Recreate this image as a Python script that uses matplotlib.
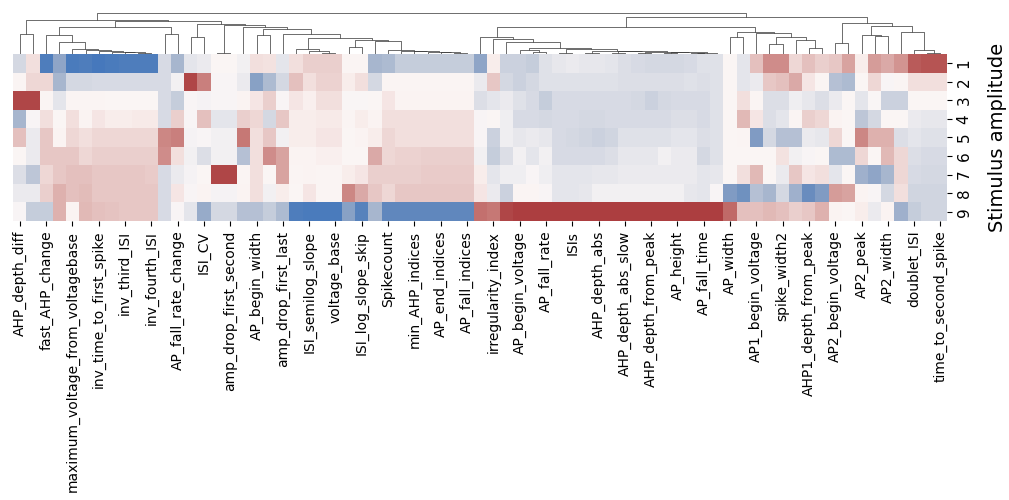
import matplotlib
matplotlib.use("Agg")
import matplotlib.pyplot as plt
import numpy as np
import seaborn as sns
from matplotlib.collections import LineCollection

# Column (feature) labels shown on every other column, in dendrogram order
feature_labels = [
    "AHP_depth_diff", "fast_AHP_change", "maximum_voltage_from_voltagebase",
    "inv_time_to_first_spike", "inv_third_ISI", "inv_fourth_ISI",
    "AP_fall_rate_change", "ISI_CV", "amp_drop_first_second", "AP_begin_width",
    "amp_drop_first_last", "ISI_semilog_slope", "voltage_base",
    "ISI_log_slope_skip", "Spikecount", "min_AHP_indices", "AP_end_indices",
    "AP_fall_indices", "irregularity_index", "AP_begin_voltage", "AP_fall_rate",
    "ISIs", "AHP_depth_abs", "AHP_depth_abs_slow", "AHP_depth_from_peak",
    "AP_height", "AP_fall_time", "AP_width", "AP1_begin_voltage",
    "spike_width2", "AHP1_depth_from_peak", "AP2_begin_voltage", "AP2_peak",
    "AP2_width", "doublet_ISI", "time_to_second_spike",
]
stim_labels = ["1", "2", "3", "4", "5", "6", "7", "8", "9"]

# Standardised feature values per stimulus amplitude (71 features each)
amp_1 = [-0.6, 0.4, -2.3, -1.5, -2.35, -2.3, -2.4, -2.35, -2.3, -2.3, -2.3, -0.55, -1.2, -0.4, -0.3, 0.0, 0.0, -0.2,
         0.4, 0.35, -0.4, 0.4, 0.6, 0.6, 0.6, 0.05, 0.05, -1.2, -1.1, -0.8, -0.8, -0.8, -0.8, -0.8, -0.8, -1.5,
         0.2, -0.7, -0.7, -0.8, -0.45, -0.35, -0.3, -0.35, -0.35, -0.4, -0.5, -0.55, -0.6, -0.6, -0.6, -0.55, -0.45,
         -0.45, 0.0, -0.4, 0.8, 1.5, 1.5, 0.5, 0.8, 0.6, 0.7, 1.2, 0.2, 1.3, 1.1, 1.4, 2.2, 2.3, 2.3]
amp_2 = [0.05, 0.5, 0.5, -1.2, -0.6, -0.6, -0.55, -0.55, -0.55, -0.55, -0.55, -0.55, -0.2, 2.5, 1.7, -0.1, -0.1, -0.3,
         -1.6, -1.1, -0.6, 0.8, 0.4, 0.55, 0.55, 0.2, 0.4, -0.6, 0.05, 0.05, 0.05, 0.05, 0.05, 0.05, 0.05, -0.3,
         0.7, -0.6, -0.7, -0.6, -0.45, -0.45, -0.45, -0.45, -0.45, -0.45, -0.5, -0.5, -0.5, -0.5, -0.5, -0.45, -0.5,
         -0.45, 0.0, -0.4, -0.3, 0.7, 0.8, 1.1, 0.3, 0.05, -1.0, -1.1, 0.0, 0.5, -0.1, 0.05, 0.4, 0.4, 0.4]
amp_3 = [2.5, 2.5, 0.05, -0.4, 0.05, 0.05, 0.05, 0.03, 0.03, 0.03, 0.03, -0.55, -0.8, -0.1, -0.15, -0.1, -0.1, 0.1,
         0.3, 0.6, -0.1, 0.3, 0.15, 0.4, 0.4, -0.05, -0.05, 0.0, 0.3, 0.1, 0.1, 0.1, 0.1, 0.1, 0.1, -0.5,
         -0.4, -0.3, -0.45, -0.55, -0.8, -0.55, -0.55, -0.55, -0.55, -0.55, -0.55, -0.6, -0.7, -0.6, -0.55, -0.55, -0.55,
         -0.45, 0.0, 0.4, 0.05, -0.5, -0.5, -0.25, -0.35, -0.5, -0.3, 0.0, -0.4, -0.05, -0.7, -0.7, 0.0, 0.0, 0.0]
amp_4 = [-1.2, -0.1, 0.4, 0.0, 0.4, 0.1, 0.3, 0.2, 0.2, 0.25, 0.25, -0.55, 0.6, -0.1, 0.8, -0.4, -0.4, 0.6,
         0.5, -0.6, 0.7, 0.2, 0.2, 0.25, 0.25, 0.05, 0.2, 0.1, 0.4, 0.4, 0.4, 0.4, 0.4, 0.4, 0.4, -0.1,
         0.0, -0.25, -0.55, -0.55, -0.6, -0.55, -0.55, -0.6, -0.6, -0.55, -0.55, -0.55, -0.55, -0.55, -0.5, -0.5, -0.55,
         -0.45, 0.0, 0.9, 0.3, -0.5, -0.4, 0.05, 0.6, 0.5, 0.1, 0.0, -0.9, -0.6, 0.0, 0.0, -0.3, -0.35, -0.35]
amp_5 = [0.8, -0.3, 0.7, 0.1, 0.5, 0.4, 0.5, 0.5, 0.5, 0.5, 0.5, 1.6, 1.7, -0.15, -0.1, -0.2, -0.2, 1.8,
         0.4, 0.7, -0.2, 0.2, 0.2, 0.3, 0.3, 0.0, 0.1, 0.2, 0.5, 0.4, 0.4, 0.4, 0.4, 0.4, 0.4, -0.1,
         -0.7, -0.25, -0.35, -0.3, -0.35, -0.55, -0.6, -0.65, -0.7, -0.65, -0.45, -0.45, -0.45, -0.45, -0.4, -0.4, -0.5,
         -0.45, 0.0, 0.05, -1.7, -0.6, -1.0, -1.0, -0.3, -0.35, 0.5, 0.0, 1.6, 1.0, 1.0, -0.5, -0.4, -0.45, -0.45]
amp_6 = [0.0, -0.3, 0.7, 0.7, 0.7, 0.5, 0.6, 0.6, 0.6, 0.6, 0.6, 1.5, 0.4, -0.2, -0.5, -0.2, -0.2, -1.0,
         0.4, 1.5, 1.2, 0.1, 0.1, 0.15, 0.15, 0.0, 0.0, 1.1, 0.5, 0.55, 0.55, 0.6, 0.6, 0.6, 0.6, -0.2,
         -0.8, -0.5, -0.2, -0.4, -0.2, -0.55, -0.55, -0.55, -0.55, -0.5, -0.35, -0.35, -0.35, -0.2, -0.3, -0.3, -0.6,
         -0.45, 0.0, 0.0, 0.0, 0.0, 0.35, -0.2, -0.1, 0.0, -1.1, -1.1, 0.5, 0.0, 0.9, 0.5, -0.5, -0.55, -0.55]
amp_7 = [-0.5, -0.9, 0.5, 0.7, 0.8, 0.8, 0.7, 0.7, 0.7, 0.7, 0.65, -0.55, -0.3, -0.15, 0.0, 2.5, 2.5, 0.05,
         0.4, 0.0, 1.2, 0.05, 0.1, 0.05, 0.05, 0.2, 0.3, 0.6, 0.6, 0.6, 0.6, 0.65, 0.65, 0.65, 0.65, 0.2,
         -0.4, -0.25, -0.25, -0.1, -0.25, -0.4, -0.4, -0.4, -0.35, -0.35, -0.3, -0.3, -0.3, -0.3, -0.3, -0.3, -0.4,
         -0.35, 0.0, 0.4, 0.9, 0.0, -0.3, 0.7, 0.3, 0.4, -0.4, 0.0, -1.3, -1.5, -1.2, 0.5, -0.55, -0.6, -0.6]
amp_8 = [-0.3, -0.3, 0.6, 1.0, 0.8, 0.85, 0.7, 0.7, 0.7, 0.7, 0.7, -0.55, 0.3, -0.1, 0.1, -0.15, -0.15, 0.1,
         0.4, -0.2, 0.2, 0.0, 0.3, 0.05, 0.05, 1.6, 1.1, 0.7, 0.5, 0.7, 0.7, 0.7, 0.7, 0.7, 0.7, 0.3,
         -0.3, -0.7, 0.05, 0.05, -0.1, -0.4, -0.4, -0.35, -0.2, -0.2, -0.2, -0.2, -0.2, -0.2, -0.2, -0.35, -0.4,
         -0.1, -1.7, -1.9, -1.0, -1.2, -0.6, -1.3, -2.0, -1.7, 1.3, 1.2, 0.1, -0.1, -0.6, 0.4, -0.65, -0.65, -0.65]
amp_9 = [-0.1, -0.8, -0.8, 1.0, 0.1, 0.9, 0.8, 0.75, 0.7, 0.7, 0.7, -0.55, -0.1, -0.4, -1.4, -0.6, -0.6, -1.0,
         -1.0, -0.8, -1.1, -2.3, -2.35, -2.35, -2.35, -1.6, -2.2, -1.2, -2.1, -2.1, -2.1, -2.1, -2.1, -2.1, -2.1, 1.9,
         1.8, 2.5, 2.6, 2.6, 2.6, 2.6, 2.6, 2.6, 2.6, 2.6, 2.6, 2.6, 2.6, 2.6, 2.6, 2.6, 2.6,
         2.6, 2.0, 0.8, 0.8, 0.9, 0.8, 0.6, 0.7, 1.0, 0.1, 0.0, 0.2, -0.3, 0.1, -1.3, -0.8, -0.65, -0.65]

# Column linkage tree: (left, right, merge distance); ints are leaf (column) indices
left_tree = (
    (0, 1, 19.2),
    (
        ((2, (3, (4, (5, (6, (7, (8, (9, 10, 1.0), 1.5), 2.0), 2.5), 3.5), 4.5), 11.2), 18.5),
         (11, 12, 19.5), 26.2),
        ((13, 14, 16.8),
         ((15, 16, 0.5),
          (17,
           ((18, 19, 18.5),
            (20,
             ((21, (22, (23, 24, 1.0), 2.5), 4.5),
              ((25, 26, 6.2),
               (27, (28, (29, (30, (31, (32, (33, 34, 0.8), 1.5), 2.0), 2.5), 3.0), 3.5), 12.5),
               13.5),
              15.8),
             19.2),
            24.5),
           26.8),
          28.5),
         29.2),
        32.5),
    34.0)
right_tree = (
    ((35, (36, (37,
                ((38, (39, 40, 1.5), 3.5),
                 ((41, 42, 1.0), ((43, 44, 1.0), ((45, 46, 0.8), ((47, 48, 0.8),
                   ((49, 50, 0.7), ((51, 52, 0.5), 53, 1.0), 1.5), 2.0), 2.5), 3.0), 4.5),
                 5.5),
                11.8), 14.2), 16.5),
     ((54, 55, 16.8), (56, ((57, 58, 9.5), (59, (60, 61, 5.2), 13.5), 16.8), 20.2), 21.8),
     26.8),
    ((62, 63, 10.2),
     ((64, (65, 66, 17.5), 18.5), (67, (68, (69, 70, 0.8), 3.5), 21.8), 27.5),
     30.8),
    36.5)
col_tree = (left_tree, right_tree, 40.5)

data = np.array([amp_1, amp_2, amp_3, amp_4, amp_5, amp_6, amp_7, amp_8, amp_9])
n_rows, n_cols = data.shape

W, H = 1009, 500
fig = plt.figure(figsize=(W / 100, H / 100), dpi=100)

hm_left, hm_right = 13.3 / W, 947 / W
hm_top_px, hm_bot_px = 54, 221
ax = fig.add_axes([hm_left, 1 - hm_bot_px / H, hm_right - hm_left, (hm_bot_px - hm_top_px) / H])
cmap = sns.color_palette("vlag", as_cmap=True)
ax.pcolormesh(np.arange(n_cols + 1), np.arange(n_rows + 1), data, cmap=cmap, vmin=-2.7, vmax=2.7)
ax.set_xlim(0, n_cols)
ax.set_ylim(n_rows, 0)
for s in ax.spines.values():
    s.set_visible(False)
ax.set_xticks(np.arange(0, n_cols, 2) + 0.5)
ax.set_xticklabels(feature_labels, rotation=90, fontsize=10)
ax.set_yticks(np.arange(n_rows) + 0.5)
ax.set_yticklabels(stim_labels, rotation=90, fontsize=11, va="center")
ax.yaxis.tick_right()
ax.yaxis.set_label_position("right")
ax.set_ylabel("Stimulus amplitude", fontsize=14, labelpad=12)

# Column dendrogram
dax = fig.add_axes([hm_left, 1 - 53.5 / H, hm_right - hm_left, 42.5 / H])
segs = []


def walk(node):
    if isinstance(node, int):
        return node + 0.5, 0.0
    left, right, h = node
    xl, hl = walk(left)
    xr, hr = walk(right)
    segs.append([(xl, hl), (xl, h), (xr, h), (xr, hr)])
    return (xl + xr) / 2, h


_, root_h = walk(col_tree)
dax.add_collection(LineCollection(segs, colors=[(0.2, 0.2, 0.2)], linewidths=0.5))
dax.set_xlim(0, n_cols)
dax.set_ylim(0, root_h * 1.05)
dax.axis("off")

fig.savefig("out.png", dpi=100)
